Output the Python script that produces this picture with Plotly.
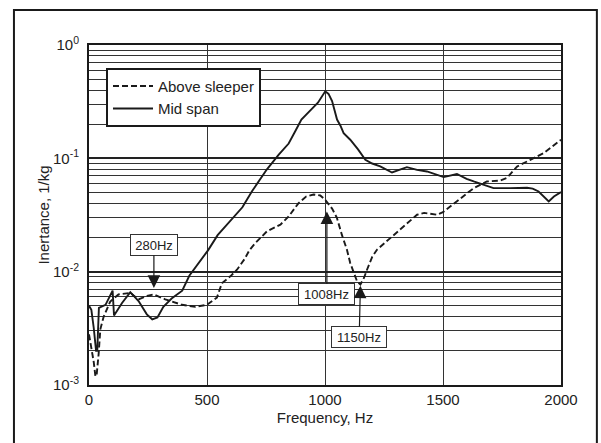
import math
import plotly.graph_objects as go

# ---- data ----
freq_mid = [0, 10, 20, 30, 35, 42, 70, 100, 106, 140, 175, 210, 245, 268, 290, 315, 350, 395,
            425, 465, 505, 545, 600, 650, 690, 754, 804, 846, 875, 900, 938, 970, 1001, 1015,
            1030, 1051, 1065, 1079, 1107, 1140, 1171, 1200, 1234, 1284, 1347, 1390, 1432, 1503,
            1559, 1600, 1630, 1714, 1785, 1856, 1880, 1905, 1948, 1970, 2000]
inert_mid = [5.0e-3, 4.6e-3, 3.2e-3, 2.0e-3, 2.0e-3, 4.8e-3, 5.1e-3, 6.8e-3, 4.1e-3, 5.3e-3,
             6.6e-3, 5.5e-3, 4.2e-3, 3.8e-3, 3.95e-3, 4.9e-3, 5.8e-3, 6.8e-3, 9.2e-3, 1.19e-2,
             1.55e-2, 2.1e-2, 2.85e-2, 3.7e-2, 5.1e-2, 8.0e-2, 0.108, 0.135, 0.175, 0.22, 0.265,
             0.31, 0.39, 0.37, 0.32, 0.22, 0.195, 0.167, 0.146, 0.12, 0.097, 0.09, 0.085, 0.075,
             0.0836, 0.079, 0.0766, 0.0683, 0.0728, 0.066, 0.0625, 0.0546, 0.0546, 0.055, 0.054,
             0.051, 0.0416, 0.046, 0.0504]

freq_above = [0, 20, 27, 32, 41, 48, 62, 90, 125, 175, 210, 246, 274, 323, 394, 450, 500, 542,
              563, 599, 627, 660, 680, 705, 754, 811, 846, 888, 920, 952, 980, 1001, 1030, 1050,
              1072, 1093, 1107, 1136, 1150, 1165, 1178, 1200, 1220, 1277, 1333, 1390, 1420, 1474,
              1500, 1559, 1630, 1686, 1743, 1771, 1814, 1870, 1926, 2000]
inert_above = [2.8e-3, 1.6e-3, 1.2e-3, 1.2e-3, 1.9e-3, 3.1e-3, 4.0e-3, 5.45e-3, 6.3e-3, 6.5e-3,
               5.7e-3, 6.1e-3, 6.3e-3, 5.7e-3, 5.1e-3, 4.9e-3, 5.1e-3, 5.9e-3, 7.9e-3, 9.1e-3,
               1.04e-2, 1.3e-2, 1.55e-2, 1.79e-2, 2.27e-2, 2.6e-2, 3.07e-2, 4.03e-2, 4.6e-2,
               4.8e-2, 4.7e-2, 4.3e-2, 3.6e-2, 3.0e-2, 2.1e-2, 1.56e-2, 1.19e-2, 8.2e-3, 7.7e-3,
               8.8e-3, 1.04e-2, 1.35e-2, 1.56e-2, 1.98e-2, 2.51e-2, 3.18e-2, 3.3e-2, 3.18e-2,
               3.35e-2, 4.16e-2, 5.46e-2, 6.25e-2, 6.37e-2, 6.72e-2, 8.47e-2, 0.097, 0.111, 0.146]

x_ticks = [0, 500, 1000, 1500, 2000]
y_ticks = [1e-3, 1e-2, 1e-1, 1e0]
y_ticktext = ["10<sup>-3</sup>", "10<sup>-2</sup>", "10<sup>-1</sup>", "10<sup>0</sup>"]
y_minor = [m * d for d in (1e-3, 1e-2, 1e-1) for m in range(2, 10)]

# annotations: label, tip frequency, tip inertance, box frequency, box inertance
ann_labels = ["280Hz", "1008Hz", "1150Hz"]
ann_tip_f = [275, 1008, 1150]
ann_tip_v = [7.18e-3, 3.4e-2, 7.53e-3]
ann_box_f = [275, 1008, 1145]
ann_box_v = [1.73e-2, 6.31e-3, 2.65e-3]
ann_box_w = [42, 51, 50]

INK = "#1a1a1a"
FONT = "Liberation Sans, Arial, sans-serif"

fig = go.Figure()
fig.add_trace(go.Scatter(x=freq_above, y=inert_above, mode="lines", name="Above sleeper",
                         line=dict(color=INK, width=1.9, dash="6px,3px")))
fig.add_trace(go.Scatter(x=freq_mid, y=inert_mid, mode="lines", name="Mid span",
                         line=dict(color=INK, width=1.9)))

for lab, tf, tv, bf, bv, bw in zip(ann_labels, ann_tip_f, ann_tip_v, ann_box_f, ann_box_v, ann_box_w):
    # log axes: annotation positions are given in log10 units
    fig.add_annotation(x=tf, y=math.log10(tv), xref="x", yref="y",
                       ax=bf, ay=math.log10(bv), axref="x", ayref="y",
                       text=lab, showarrow=True, arrowhead=2, arrowsize=2.1, arrowwidth=1.2,
                       arrowcolor=INK, standoff=0, bgcolor="white", bordercolor="#333",
                       borderwidth=1, borderpad=2, width=bw, height=16,
                       font=dict(family=FONT, size=13, color="#222"))

# outer frame around the whole figure
fig.add_shape(type="rect", xref="paper", yref="paper", x0=-0.159, x1=1.076, y0=-0.25, y1=1.103,
              line=dict(color=INK, width=2), layer="above")

fig.update_layout(
    width=601, height=443,
    margin=dict(l=89, r=40, t=45, b=58),
    paper_bgcolor="white", plot_bgcolor="white",
    font=dict(family=FONT, size=15, color="#222"),
    showlegend=True,
    legend=dict(x=0.036, y=0.933, xanchor="left", yanchor="top",
                bgcolor="white", bordercolor=INK, borderwidth=2,
                font=dict(family=FONT, size=15, color="#222"),
                tracegroupgap=0, itemwidth=40),
    xaxis=dict(range=[0, 2000], tickmode="array", tickvals=x_ticks,
               showgrid=True, gridcolor="#333", gridwidth=1.3, zeroline=False,
               showline=True, linecolor=INK, linewidth=2, mirror=True,
               ticks="", ticklen=0,
               title=dict(text="Frequency, Hz", standoff=5, font=dict(size=15))),
    yaxis=dict(type="log", range=[-3, 0], tickmode="array", tickvals=y_ticks,
               ticktext=y_ticktext, showgrid=True, gridcolor="#222", gridwidth=2,
               zeroline=False, showline=True, linecolor=INK, linewidth=2, mirror=True,
               ticks="outside", ticklen=5, tickcolor="rgba(0,0,0,0)",
               minor=dict(tickmode="array", tickvals=y_minor, showgrid=True,
                          gridcolor="#333", gridwidth=1, ticks=""),
               title=dict(text="Inertance, 1/kg", standoff=0, font=dict(size=15))),
)

fig.write_html("out.html")
